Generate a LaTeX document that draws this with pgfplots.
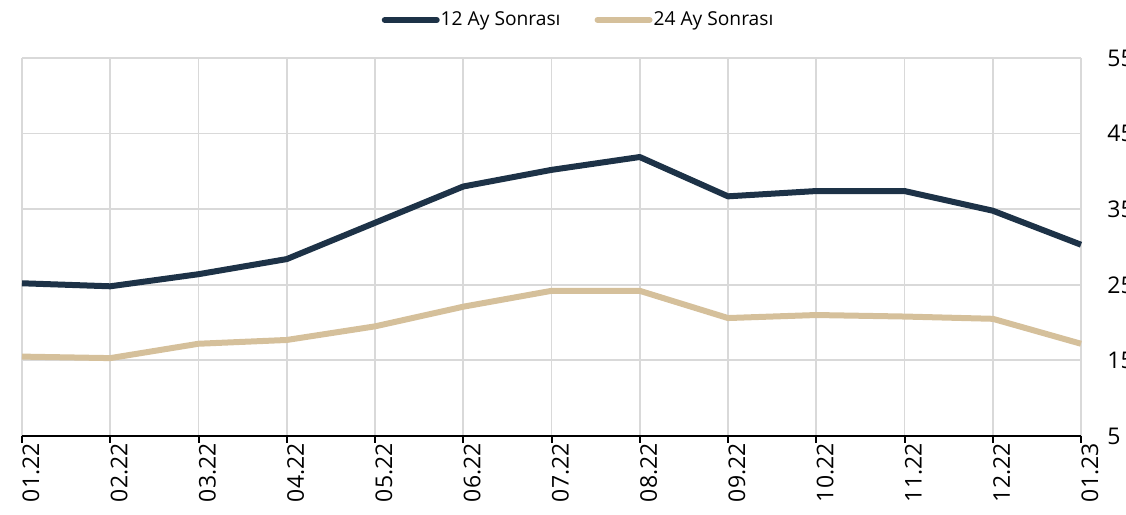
\documentclass[border=0pt]{standalone}
\usepackage{fontspec}
\setmainfont{Open Sans}
\usepackage{pgfplots}
\pgfplotsset{compat=1.18}
\definecolor{navy}{RGB}{29,50,71}
\definecolor{tanc}{RGB}{213,192,155}
\definecolor{gridc}{RGB}{217,217,217}
\begin{document}
\begin{tikzpicture}
\begin{axis}[
 scale only axis, width=529.5pt, height=189pt,
 xmin=0, xmax=12, ymin=5, ymax=55,
 xtick={0,...,12},
 xticklabels={01.22,02.22,03.22,04.22,05.22,06.22,07.22,08.22,09.22,10.22,11.22,12.22,01.23},
 ytick={5,15,25,35,45,55},
 axis x line*=bottom, axis y line*=right,
 x axis line style={black, line width=1pt, -},
 y axis line style={draw=none, -},
 grid=major, major grid style={gridc, line width=0.9pt},
 tick align=outside,
 major tick length=3.5pt,
 xtick style={black, line width=1pt},
 ytick style={draw=none},
 xticklabel style={rotate=90, anchor=east, font=\fontsize{11.5}{13}\selectfont, inner sep=0pt, yshift=-4.5pt},
 yticklabel style={anchor=west, font=\fontsize{11.5}{13}\selectfont, inner sep=0pt, xshift=9.5pt},
 /pgf/number format/assume math mode=true,
 legend style={at={(0.5265,1)}, anchor=center, yshift=19pt, draw=none, fill=none, legend columns=2, font=\fontsize{9.6}{12}\selectfont, inner sep=0pt, /tikz/every even column/.append style={column sep=15pt}, /tikz/every odd column/.append style={column sep=-1.5pt}},
 legend image code/.code={\draw[#1, line cap=round] (0pt,0pt) -- (26pt,0pt);},
 clip=false
]
\addplot[navy, line width=3pt, line join=round] coordinates {
(0,25.2) (1,24.8) (2,26.4) (3,28.4) (4,33.2) (5,38.0) (6,40.2) (7,41.9) (8,36.7) (9,37.4) (10,37.4) (11,34.8) (12,30.3)};
\addlegendentry{12 Ay Sonrası}
\addplot[tanc, line width=3pt, line join=round] coordinates {
(0,15.5) (1,15.3) (2,17.2) (3,17.7) (4,19.5) (5,22.1) (6,24.2) (7,24.2) (8,20.6) (9,21.0) (10,20.8) (11,20.5) (12,17.2)};
\addlegendentry{24 Ay Sonrası}
\coordinate (bl) at (rel axis cs:0,0);
\coordinate (tr) at (rel axis cs:1,1);
\end{axis}
\pgfresetboundingbox
\path[use as bounding box] ([xshift=-11pt,yshift=-39.5pt]bl) rectangle ([xshift=22.5pt,yshift=29pt]tr);
\end{tikzpicture}
\end{document}
